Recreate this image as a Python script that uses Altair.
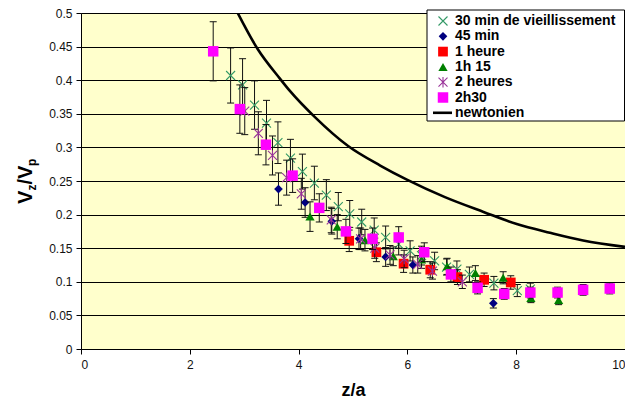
import altair as alt
import pandas as pd

# ---------------- data ----------------
s1_name = "30 min de vieillissement"
s1_x = [2.75, 2.97, 3.19, 3.41, 3.62, 3.85, 4.07, 4.29, 4.51, 4.73, 4.94, 5.16, 5.39, 5.60, 5.84, 6.05, 6.26, 6.50, 6.72, 6.91, 7.14, 7.59, 8.02, 8.26]
s1_y = [0.407, 0.393, 0.363, 0.336, 0.307, 0.284, 0.264, 0.247, 0.229, 0.212, 0.201, 0.189, 0.177, 0.166, 0.156, 0.146, 0.139, 0.131, 0.122, 0.119, 0.111, 0.098, 0.087, 0.089]
s1_e = [0.041, 0.039, 0.036, 0.034, 0.031, 0.028, 0.026, 0.025, 0.023, 0.021, 0.020, 0.019, 0.018, 0.017, 0.016, 0.015, 0.014, 0.013, 0.012, 0.012, 0.011, 0.010, 0.009, 0.009]

s2_name = "45 min"
s2_x = [3.63, 4.12, 4.61, 5.11, 5.60, 6.10, 7.58]
s2_y = [0.238, 0.218, 0.190, 0.164, 0.137, 0.125, 0.068]
s2_e = [0.024, 0.022, 0.019, 0.016, 0.014, 0.012, 0.007]

s3_name = "1 heure"
s3_x = [4.93, 5.43, 5.93, 6.42, 6.92, 7.41, 7.90]
s3_y = [0.161, 0.144, 0.127, 0.118, 0.107, 0.103, 0.099]
s3_e = [0.016, 0.014, 0.013, 0.012, 0.011, 0.010, 0.010]

s4_name = "1h 15"
s4_x = [4.21, 4.71, 5.22, 5.74, 6.26, 6.73, 7.25, 7.76, 8.27, 8.78]
s4_y = [0.197, 0.182, 0.162, 0.138, 0.133, 0.123, 0.113, 0.106, 0.076, 0.073]
s4_e = [0.022, 0.018, 0.016, 0.014, 0.013, 0.012, 0.011, 0.009, 0.007, 0.007]

s5_name = "2 heures"
s5_x = [3.01, 3.26, 3.52, 3.78, 4.05, 4.60, 5.14, 5.40, 5.68, 5.94, 6.19, 6.46, 7.01]
s5_y = [0.354, 0.321, 0.288, 0.255, 0.231, 0.192, 0.164, 0.150, 0.140, 0.134, 0.126, 0.116, 0.100]
s5_e = [0.035, 0.032, 0.029, 0.026, 0.023, 0.019, 0.016, 0.015, 0.014, 0.013, 0.013, 0.012, 0.010]

s6_name = "2h30"
s6_x = [2.43, 2.92, 3.40, 3.89, 4.38, 4.87, 5.36, 5.84, 6.31, 6.80, 7.29, 7.78, 8.26, 8.76, 9.23, 9.72]
s6_y = [0.443, 0.357, 0.304, 0.258, 0.210, 0.175, 0.164, 0.166, 0.144, 0.111, 0.091, 0.082, 0.084, 0.084, 0.088, 0.090]
s6_e = [0.044, 0.036, 0.030, 0.025, 0.021, 0.018, 0.016, 0.016, 0.014, 0.011, 0.009, 0.008, 0.008, 0.008, 0.008, 0.008]

newt_name = "newtonien"
newt_x = [2.83, 3.25, 3.66, 3.84, 4.30, 4.91, 5.50, 5.99, 6.69, 7.40, 8.01, 8.62, 9.23, 10.0]
newt_y = [0.508, 0.446, 0.402, 0.384, 0.345, 0.302, 0.273, 0.252, 0.226, 0.204, 0.186, 0.173, 0.1615, 0.152]

x_ticks = [0, 2, 4, 6, 8, 10]
y_ticks = [0, 0.05, 0.1, 0.15, 0.2, 0.25, 0.3, 0.35, 0.4, 0.45, 0.5]

# ---------------- styling ----------------
FONT = "Liberation Sans"
X_PATH = "M-1,-1L1,1M-1,1L1,-1"
STAR_PATH = "M-1,-1L1,1M-1,1L1,-1M0,-1.15L0,1.15"

styles = [
    (s1_name, s1_x, s1_y, s1_e, dict(shape=X_PATH, filled=False, color="#339966", size=81, strokeWidth=1.1)),
    (s2_name, s2_x, s2_y, s2_e, dict(shape="diamond", filled=True, color="#000080", size=75)),
    (s3_name, s3_x, s3_y, s3_e, dict(shape="square", filled=True, color="#FF0000", size=95)),
    (s4_name, s4_x, s4_y, s4_e, dict(shape="triangle-up", filled=True, color="#008000", size=85)),
    (s5_name, s5_x, s5_y, s5_e, dict(shape=STAR_PATH, filled=False, color="#993399", size=81, strokeWidth=1.1)),
    (s6_name, s6_x, s6_y, s6_e, dict(shape="square", filled=True, color="#FF00FF", size=110)),
]

xs = alt.Scale(domain=[0, 10], nice=False, zero=False)
ys = alt.Scale(domain=[0, 0.5], nice=False, zero=False)
x_axis = alt.Axis(values=x_ticks, format="d", title="z/a", grid=False,
                  labelPadding=5, titlePadding=11)
y_axis = alt.Axis(values=y_ticks, format="~g", title=None, grid=True,
                  labelPadding=4)


def X(field):
    return alt.X(field, type="quantitative", scale=xs, axis=x_axis)


def Y(field):
    return alt.Y(field, type="quantitative", scale=ys, axis=y_axis)


layers = []
for name, xv, yv, ev, st in styles:
    df = pd.DataFrame({"x": xv, "y": yv, "e": ev})
    df["lo"] = df["y"] - df["e"]
    df["hi"] = df["y"] + df["e"]
    base = alt.Chart(df)
    layers.append(base.mark_rule(color="#111111", strokeWidth=1).encode(
        x=X("x"), y=Y("lo"), y2="hi"))
    layers.append(base.mark_tick(orient="horizontal", size=7, thickness=1,
                                 color="#111111", opacity=1).encode(x=X("x"), y=Y("lo")))
    layers.append(base.mark_tick(orient="horizontal", size=7, thickness=1,
                                 color="#111111", opacity=1).encode(x=X("x"), y=Y("hi")))
    layers.append(base.mark_point(opacity=1, **st).encode(x=X("x"), y=Y("y")))

newt_df = pd.DataFrame({"x": newt_x, "y": newt_y})
layers.append(alt.Chart(newt_df).mark_line(color="black", strokeWidth=2.6,
                                           interpolate="monotone", clip=True).encode(
    x=X("x"), y=Y("y")))

one = pd.DataFrame({"a": [0]})

# ---------------- y-axis title V_z / V_p (rotated, with subscripts) ----------------
title_pieces = [("V", 191.0, -49, 20), ("z", 177.6, -45, 12),
                ("/V", 171.6, -49, 20), ("p", 153.0, -45, 12)]
for txt, ypos, xpos, fs in title_pieces:
    layers.append(alt.Chart(one).mark_text(
        text=txt, angle=270, align="left", baseline="alphabetic",
        font=FONT, fontSize=fs, fontWeight="bold", color="black").encode(
        x=alt.value(xpos), y=alt.value(ypos)))

# ---------------- legend ----------------
LEG_L, LEG_R, LEG_T, LEG_B = 346, 543.5, -3, 108
layers.append(alt.Chart(one).mark_rect(fill="white", stroke="black", strokeWidth=1).encode(
    x=alt.value(LEG_L), x2=alt.value(LEG_R), y=alt.value(LEG_T), y2=alt.value(LEG_B)))

legend_names = [s[0] for s in styles] + [newt_name]
for i, name in enumerate(legend_names):
    ry = 8 + i * 15.3
    if i < len(styles):
        st = styles[i][4]
        layers.append(alt.Chart(one).mark_point(opacity=1, **st).encode(
            x=alt.value(362), y=alt.value(ry)))
    else:
        layers.append(alt.Chart(one).mark_rule(color="black", strokeWidth=2.6).encode(
            x=alt.value(352), x2=alt.value(371), y=alt.value(ry)))
    layers.append(alt.Chart(one).mark_text(
        text=name, align="left", baseline="middle", font=FONT, fontSize=14,
        fontWeight="bold", color="black").encode(x=alt.value(374), y=alt.value(ry)))

chart = alt.layer(*layers).properties(
    width=544, height=336,
    padding={"left": 73, "top": 5, "right": 0, "bottom": 50},
    autosize=alt.AutoSizeParams(type="none"),
    background="white",
).configure_view(
    fill="#FFFFCC", stroke="#808080", strokeWidth=1
).configure_axis(
    labelFont=FONT, labelFontSize=12, labelColor="#111111",
    tickColor="black", tickSize=5, domainColor="black", domainWidth=1,
    gridColor="black", gridOpacity=1, gridWidth=1,
    titleFont=FONT, titleFontSize=18, titleFontWeight="bold", titleColor="black",
)

chart.save("out.html", embed_options={"renderer": "svg", "actions": False})
